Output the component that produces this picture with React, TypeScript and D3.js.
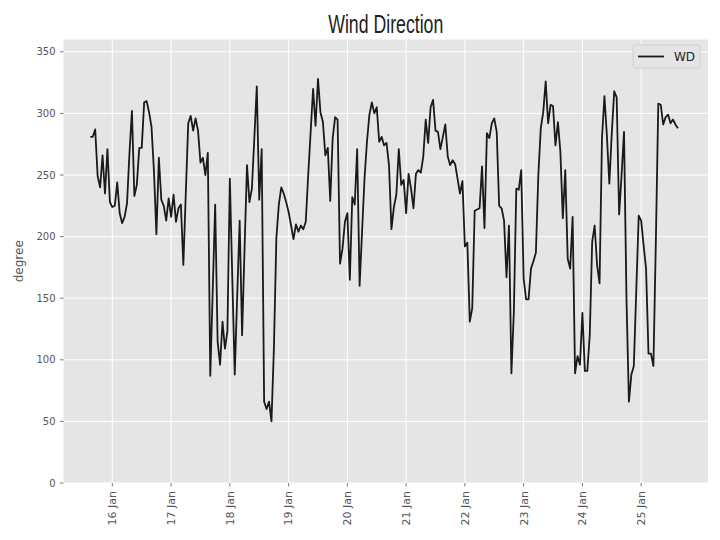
import React from "react";
import * as d3 from "d3";

const TITLE = "Wind Direction";
const Y_LABEL = "degree";
const SERIES_NAME = "WD";
const START_UTC = Date.UTC(2021, 0, 15, 15, 0); // first hourly reading: 15 Jan 15:00
const HOUR_MS = 3600 * 1000;

// hourly wind direction (degrees)
const WD: number[] = [
  281, 281, 287, 249, 240, 266, 235, 271, 228, 224, 225, 244, 219, 211, 216, 227, 268, 302, 233, 242, 272, 272, 309, 310, 301,
  289, 253, 202, 264, 230, 225, 213, 231, 216, 234, 212, 223, 226, 177, 235, 292, 298, 286, 296, 286, 260, 264, 250, 268,
  87, 156, 226, 115, 96, 131, 109, 123, 247, 166, 88, 152, 213, 120, 190, 258, 228, 239, 280, 322, 230, 271, 66, 60, 66,
  50, 110, 199, 226, 240, 235, 228, 220, 209, 198, 210, 204, 209, 206, 212, 250, 285, 320, 290, 328, 301, 293, 266, 272,
  229, 280, 297, 295, 178, 190, 212, 219, 165, 232, 226, 271, 160, 204, 247, 277, 299, 309, 300, 305, 277, 281, 274, 276,
  258, 206, 224, 234, 271, 242, 246, 219, 251, 239, 223, 251, 254, 252, 265, 295, 276, 305, 311, 286, 285, 271, 281, 291,
  265, 258, 262, 259, 247, 235, 245, 192, 195, 131, 142, 221, 222, 223, 257, 207, 284, 280, 292, 296, 285, 225, 223, 213,
  167, 209, 89, 139, 239, 238, 254, 166, 149, 149, 174, 180, 187, 250, 288, 301, 326, 292, 307, 306, 274, 293, 269, 215,
  254, 182, 174, 216, 89, 103, 96, 138, 91, 91, 120, 196, 209, 177, 162, 280, 314, 282, 243, 284, 318, 313, 218, 250, 285,
  150, 66, 88, 95, 156, 217, 213, 193, 174, 105, 105, 95, 196, 308, 307, 291, 297, 299, 292, 295, 291, 288,
];

const Y_TICKS = [0, 50, 100, 150, 200, 250, 300, 350];
const X_TICK_DAYS = [16, 17, 18, 19, 20, 21, 22, 23, 24, 25];

const W = 720;
const H = 540;
const PLOT = { left: 63.5, right: 708, top: 39.5, bottom: 483 };

export default function App() {
  const times = WD.map((_, i) => new Date(START_UTC + i * HOUR_MS));
  const x = d3
    .scaleUtc()
    .domain([
      new Date(START_UTC - 10.95 * HOUR_MS),
      new Date(START_UTC + (WD.length - 1 + 12.3) * HOUR_MS),
    ])
    .range([PLOT.left, PLOT.right]);
  const y = d3.scaleLinear().domain([0, 360]).range([PLOT.bottom, PLOT.top]);
  const line = d3
    .line<number>()
    .x((_, i) => x(times[i]))
    .y((d) => y(d));
  const fmt = d3.utcFormat("%d %b");
  const xTicks = X_TICK_DAYS.map((d) => new Date(Date.UTC(2021, 0, d)));
  const tickColor = "#555555";
  const font = "'DejaVu Sans', sans-serif";

  return (
    <svg
      width={W}
      height={H}
      style={{ position: "absolute", left: 0, top: 0, background: "#ffffff" }}
    >
      <rect x={0} y={0} width={W} height={H} fill="#ffffff" />
      <rect
        x={PLOT.left}
        y={PLOT.top}
        width={PLOT.right - PLOT.left}
        height={PLOT.bottom - PLOT.top}
        fill="#E5E5E5"
      />
      {/* grid */}
      {Y_TICKS.map((t) => (
        <line
          key={"gy" + t}
          x1={PLOT.left}
          x2={PLOT.right}
          y1={y(t)}
          y2={y(t)}
          stroke="#ffffff"
          strokeWidth={1}
        />
      ))}
      {xTicks.map((t, i) => (
        <line
          key={"gx" + i}
          x1={x(t)}
          x2={x(t)}
          y1={PLOT.top}
          y2={PLOT.bottom}
          stroke="#ffffff"
          strokeWidth={1}
        />
      ))}
      {/* data line */}
      <path
        d={line(WD) || ""}
        fill="none"
        stroke="#1a1a1a"
        strokeWidth={1.8}
        strokeLinejoin="round"
      />
      {/* y axis */}
      {Y_TICKS.map((t) => (
        <g key={"yt" + t}>
          <line x1={PLOT.left - 3.5} x2={PLOT.left} y1={y(t)} y2={y(t)} stroke={tickColor} strokeWidth={0.8} />
          <text
            x={PLOT.left - 8}
            y={y(t)}
            dy="0.35em"
            textAnchor="end"
            fontFamily={font}
            fontSize={10}
            fill={tickColor}
          >
            {t}
          </text>
        </g>
      ))}
      {/* x axis */}
      {xTicks.map((t, i) => (
        <g key={"xt" + i}>
          <line x1={x(t)} x2={x(t)} y1={PLOT.bottom} y2={PLOT.bottom + 3.5} stroke={tickColor} strokeWidth={0.8} />
          <text
            transform={`translate(${x(t)},${PLOT.bottom + 8}) rotate(-90)`}
            dy="0.35em"
            textAnchor="end"
            fontFamily={font}
            fontSize={11}
            fill={tickColor}
          >
            {fmt(t)}
          </text>
        </g>
      ))}
      {/* y label */}
      <text
        transform={`translate(23,${(PLOT.top + PLOT.bottom) / 2}) rotate(-90)`}
        textAnchor="middle"
        fontFamily={font}
        fontSize={12}
        fill={tickColor}
      >
        {Y_LABEL}
      </text>
      {/* title */}
      <text
        x={(PLOT.left + PLOT.right) / 2}
        y={33}
        textAnchor="middle"
        fontFamily="'Liberation Sans', Arial, sans-serif"
        fontSize={26}
        fill="#222222"
        textLength={115}
        lengthAdjust="spacingAndGlyphs"
      >
        {TITLE}
      </text>
      {/* legend */}
      <g>
        <rect x={633} y={45} width={67} height={23} rx={2.5} fill="#E5E5E5" stroke="#cccccc" strokeWidth={0.8} />
        <line x1={638} x2={664} y1={56.5} y2={56.5} stroke="#1a1a1a" strokeWidth={1.8} />
        <text x={674} y={56.5} dy="0.35em" fontFamily={font} fontSize={12} fill="#222222">
          {SERIES_NAME}
        </text>
      </g>
    </svg>
  );
}
